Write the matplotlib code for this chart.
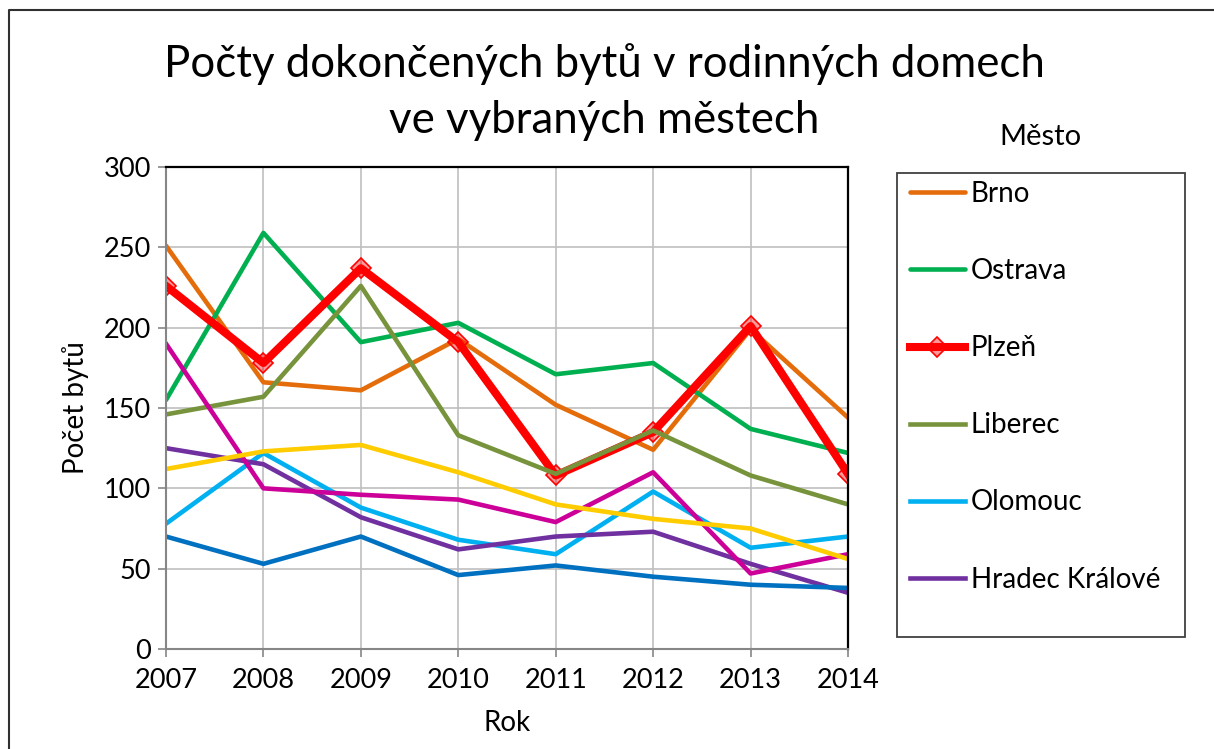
import matplotlib
matplotlib.use("Agg")
import matplotlib.pyplot as plt
from matplotlib.lines import Line2D
from matplotlib.patches import Rectangle

plt.rcParams['font.family'] = ['Lato', 'DejaVu Sans']

roky = [2007, 2008, 2009, 2010, 2011, 2012, 2013, 2014]

brno = [251, 166, 161, 193, 152, 124, 199, 144]
ostrava = [155, 259, 191, 203, 171, 178, 137, 122]
plzen = [226, 178, 237, 191, 108, 135, 201, 109]
liberec = [146, 157, 226, 133, 109, 136, 108, 90]
olomouc = [78, 122, 88, 68, 59, 98, 63, 70]
hradec = [125, 115, 82, 62, 70, 73, 53, 35]
# dalsi mesta (v legende uz nejsou videt)
dalsi_1 = [190, 100, 96, 93, 79, 110, 47, 59]
dalsi_2 = [112, 123, 127, 110, 90, 81, 75, 56]
dalsi_3 = [70, 53, 70, 46, 52, 45, 40, 38]

W, H = 1214, 749
fig = plt.figure(figsize=(W / 100, H / 100), dpi=100)
ax = fig.add_axes([166 / W, 1 - 649 / H, (848 - 166) / W, (649 - 167) / H])

lw = 3.3
ax.plot(roky, brno, color='#E46C0A', lw=lw, label='Brno', solid_capstyle='round')
ax.plot(roky, ostrava, color='#00B050', lw=lw, label='Ostrava', solid_capstyle='round')
ax.plot(roky, plzen, color='#FF0000', lw=5.8, label='Plzeň', marker='D', ms=10,
        mfc=(1, 0, 0, 0.4), mec='#FF0000', mew=1.2)
ax.plot(roky, liberec, color='#77933C', lw=lw, label='Liberec')
ax.plot(roky, olomouc, color='#00B0F0', lw=lw, label='Olomouc')
ax.plot(roky, hradec, color='#7030A0', lw=lw, label='Hradec Králové')
ax.plot(roky, dalsi_1, color='#CC0099', lw=lw)
ax.plot(roky, dalsi_2, color='#FFCC00', lw=lw)
ax.plot(roky, dalsi_3, color='#0070C0', lw=lw)

ax.set_xlim(2007, 2014)
ax.set_ylim(0, 300)
ax.set_xticks(roky)
ax.set_yticks(range(0, 301, 50))
ax.grid(True, color='#BFBFBF', lw=1.2)
ax.set_axisbelow(True)
ax.tick_params(axis='both', direction='out', length=6, width=1.2, color='#868686',
               labelsize=19.5, pad=5)
ax.tick_params(axis='x', pad=8)
for s in ['top', 'right']:
    ax.spines[s].set_color('black')
    ax.spines[s].set_linewidth(1.6)
for s in ['left', 'bottom']:
    ax.spines[s].set_color('#868686')
    ax.spines[s].set_linewidth(1.5)
ax.set_xlabel('Rok', fontsize=20, labelpad=12)
ax.set_ylabel('Počet bytů', fontsize=20, labelpad=10)

# nadpis po radcich
fig.text(604 / W, 1 - 77 / H, 'Počty dokončených bytů v rodinných domech',
         ha='center', va='baseline', fontsize=31.5)
fig.text(604 / W, 1 - 133 / H, 've vybraných městech',
         ha='center', va='baseline', fontsize=31.5)

# legenda s ramem a nadpisem mimo ram
fig.text(1040 / W, 1 - 137 / H, 'Město', ha='center', va='center', fontsize=21)
fig.add_artist(Rectangle((897 / W, 1 - 637 / H), (1185 - 897) / W, (637 - 173) / H,
                         transform=fig.transFigure, fill=False, ec='#404040', lw=1.3))
leg = ax.legend(loc='upper left', bbox_to_anchor=(910 / W, 1 - 181 / H),
                bbox_transform=fig.transFigure, frameon=False, fontsize=20,
                handlelength=1.98, handletextpad=0.2, labelspacing=1.84,
                borderpad=0, borderaxespad=0)

# okraj grafu
fig.add_artist(Line2D([9 / W, 9 / W, 1.05], [-0.05, 1 - 10 / H, 1 - 10 / H],
                      transform=fig.transFigure, color='#303030', lw=1.5))

fig.savefig('out.png', dpi=100)
